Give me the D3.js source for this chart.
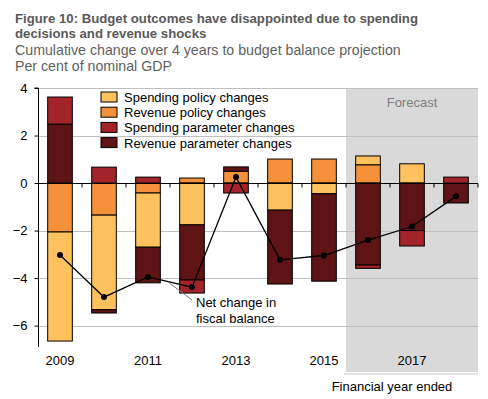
<!DOCTYPE html>
<html><head><meta charset="utf-8">
<script src="https://cdn.jsdelivr.net/npm/d3@7"></script>
<style>
body{margin:0;background:#fff;}
svg{display:block;font-family:"Liberation Sans",Arial,sans-serif;}
</style></head>
<body><svg id="c" width="488" height="399"></svg>
<script>
const years = [2009,2010,2011,2012,2013,2014,2015,2016,2017,2018];
const revenuePolicy   = [-2.06,-1.35,-0.42, 0.21, 0.50, 1.01, 1.01, 0.77, 0.00, 0.00];
const spendingPolicy  = [-4.59,-3.98,-2.28,-1.76, 0.00,-1.14,-0.45, 0.37, 0.81, 0.00];
const revenueParam    = [ 2.48,-0.14,-1.50,-2.32, 0.18,-3.11,-3.68,-3.45,-2.00,-0.84];
const spendingParam   = [ 1.14, 0.67, 0.25,-0.55,-0.42, 0.00, 0.00,-0.14,-0.65, 0.25];
const netChange       = [-3.03,-4.80,-3.95,-4.38, 0.25,-3.23,-3.05,-2.40,-1.83,-0.56];
const yTicks = [4,2,0,-2,-4,-6];
const xLabels = [2009,2011,2013,2015,2017];
const forecastFrom = 2016;

const seriesKeys = ["revPol","spPol","revPar","spPar"];
const seriesNames = {spPol:"Spending policy changes",revPol:"Revenue policy changes",spPar:"Spending parameter changes",revPar:"Revenue parameter changes"};
const colors = {spPol:"#FDC25E",revPol:"#F5913A",spPar:"#A3232A",revPar:"#5E1315"};
const legendOrder = ["spPol","revPol","spPar","revPar"];

const rows = years.map((y,i)=>({year:y,revPol:revenuePolicy[i],spPol:spendingPolicy[i],revPar:revenueParam[i],spPar:spendingParam[i]}));

const svg = d3.select("#c");
const L=38,R=478,T=88,B=347;
const x = d3.scaleBand().domain(years).range([L,R]).paddingInner(0.44).paddingOuter(0.22);
const y = d3.scaleLinear().domain([-6.9,4]).range([B,T]);

// Forecast shading
const fx0 = x(forecastFrom) - x.step()*x.paddingInner()/2;
svg.append("rect").attr("x",fx0).attr("y",T).attr("width",R-fx0).attr("height",372-T).attr("fill","#D9D9D9");
svg.append("line").attr("x1",fx0-2).attr("x2",R).attr("y1",374).attr("y2",374).attr("stroke","#C8C8C8").attr("stroke-width",1);
svg.append("text").attr("x",(fx0+R)/2).attr("y",107).attr("text-anchor","middle").attr("font-size",13).attr("fill","#7F7F7F").text("Forecast");

// gridlines
svg.append("g").selectAll("line").data(yTicks.filter(d=>d!==0)).join("line")
  .attr("x1",L).attr("x2",R).attr("y1",d=>Math.round(y(d))+0.5).attr("y2",d=>Math.round(y(d))+0.5)
  .attr("stroke","#BFBFBF").attr("stroke-width",1);

// title
const title = svg.append("g");
title.append("text").attr("x",15).attr("y",23).attr("font-size",13.2).attr("font-weight","bold").attr("fill","#595959").text("Figure 10: Budget outcomes have disappointed due to spending");
title.append("text").attr("x",15).attr("y",38).attr("font-size",13.2).attr("font-weight","bold").attr("fill","#595959").text("decisions and revenue shocks");
title.append("text").attr("x",15).attr("y",55).attr("font-size",14.2).attr("fill","#5F5F5F").text("Cumulative change over 4 years to budget balance projection");
title.append("text").attr("x",15).attr("y",71).attr("font-size",14.2).attr("fill","#5F5F5F").text("Per cent of nominal GDP");

// stacked bars
const stack = d3.stack().keys(seriesKeys).offset(d3.stackOffsetDiverging);
const stacked = stack(rows);
svg.append("g").selectAll("g").data(stacked).join("g")
  .attr("fill",d=>colors[d.key])
  .selectAll("rect").data(d=>d.filter(s=>s[1]!==s[0])).join("rect")
  .attr("x",d=>x(d.data.year)).attr("width",x.bandwidth())
  .attr("y",d=>y(Math.max(d[0],d[1]))).attr("height",d=>Math.abs(y(d[0])-y(d[1])))
  .attr("stroke","#000").attr("stroke-width",1);

// zero axis with ticks
const zy = Math.round(y(0))+0.5;
svg.append("line").attr("x1",L).attr("x2",R).attr("y1",zy).attr("y2",zy).attr("stroke","#000").attr("stroke-width",1.2);
const bounds = years.map(d=>x(d)-x.step()*x.paddingInner()/2).concat([R]);
svg.append("g").selectAll("line").data(bounds.slice(1)).join("line")
  .attr("x1",d=>d).attr("x2",d=>d).attr("y1",zy).attr("y2",zy+4).attr("stroke","#000");

// y axis
const yAxis = svg.append("g").attr("transform",`translate(${L+0.5},0)`)
  .call(d3.axisLeft(y).tickValues(yTicks).tickSize(4).tickPadding(7).tickFormat(d3.format("d")));
yAxis.select(".domain").attr("d",`M-4,${T}H0V${B}`);
yAxis.selectAll("text").attr("font-size",13).attr("font-family","Liberation Sans, Arial, sans-serif").attr("fill","#000");

// x labels
svg.append("g").selectAll("text").data(xLabels).join("text")
  .attr("x",d=>x(d)+x.bandwidth()/2).attr("y",365).attr("text-anchor","middle").attr("font-size",13).attr("fill","#000").text(d=>d);
svg.append("text").attr("x",392).attr("y",391).attr("text-anchor","middle").attr("font-size",13).attr("fill","#000").text("Financial year ended");

// net change line
const line = d3.line().x((d,i)=>x(years[i])+x.bandwidth()/2).y(d=>y(d));
svg.append("path").datum(netChange).attr("d",line).attr("fill","none").attr("stroke","#000").attr("stroke-width",1.3);
svg.append("g").selectAll("circle").data(netChange).join("circle")
  .attr("cx",(d,i)=>x(years[i])+x.bandwidth()/2).attr("cy",d=>y(d)).attr("r",3).attr("fill","#000");

// annotation
svg.append("line").attr("x1",192).attr("y1",300).attr("x2",168).attr("y2",282).attr("stroke","#808080").attr("stroke-width",1);
svg.append("text").attr("x",196).attr("y",307).attr("font-size",13).attr("fill","#000").text("Net change in");
svg.append("text").attr("x",196).attr("y",323).attr("font-size",13).attr("fill","#000").text("fiscal balance");

// legend
const lg = svg.append("g").selectAll("g").data(legendOrder).join("g")
  .attr("transform",(d,i)=>`translate(101,${92+i*15.2})`);
lg.append("rect").attr("width",16).attr("height",10).attr("fill",d=>colors[d]).attr("stroke","#000").attr("stroke-width",1);
lg.append("text").attr("x",23).attr("y",10).attr("font-size",13).attr("fill","#000").text(d=>seriesNames[d]);
</script></body></html>
